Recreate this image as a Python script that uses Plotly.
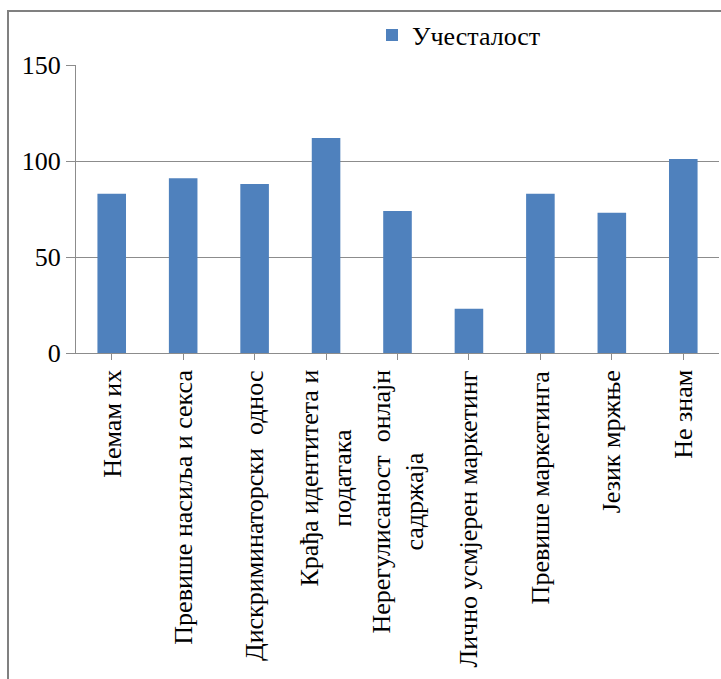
import plotly.graph_objects as go

categories = [
    "Немам их",
    "Превише насиља и секса",
    "Дискриминаторски  однос",
    "Крађа идентитета и<br>података",
    "Нерегулисаност  онлајн<br>садржаја",
    "Лично усмјерен маркетинг",
    "Превише маркетинга",
    "Језик мржње",
    "Не знам",
]
values = [83, 91, 88, 112, 74, 23, 83, 73, 101]
series_name = "Учесталост"
y_ticks = [0, 50, 100, 150]

W, H = 721, 679
L, R, T, B = 76, 2, 65, 326
plot_w = W - L - R
plot_h = H - T - B
FONT = "Liberation Serif, Times New Roman, serif"
FS = 26
GRID = "#8c8c8c"


def px_x(p):
    return (p - L) / plot_w


def px_y(p):
    return (H - B - p) / plot_h


fig = go.Figure(
    go.Bar(
        x=list(range(len(categories))),
        y=values,
        name=series_name,
        marker=dict(color="#4F81BD", line=dict(width=0)),
        showlegend=True,
    )
)

# category labels, rotated and centred under each bar
for i, c in enumerate(categories):
    fig.add_annotation(
        x=i, y=px_y(368), xref="x", yref="paper",
        text=c, textangle=-90, showarrow=False,
        xanchor="center", yanchor="top", align="center",
        font=dict(family=FONT, size=FS, color="black"),
    )

# outer chart frame
fig.add_shape(
    type="rect", xref="paper", yref="paper",
    x0=px_x(8), x1=px_x(W + 20), y0=px_y(H + 20), y1=px_y(11),
    line=dict(color="#808080", width=2), fillcolor="rgba(0,0,0,0)",
    layer="below",
)

fig.update_layout(
    width=W, height=H,
    margin=dict(l=L, r=R, t=T, b=B),
    paper_bgcolor="white", plot_bgcolor="white",
    bargap=0.6,
    font=dict(family=FONT, size=FS, color="black"),
    legend=dict(
        x=px_x(372), y=px_y(35), xanchor="left", yanchor="middle",
        orientation="h", font=dict(family=FONT, size=FS, color="black"),
        bgcolor="rgba(0,0,0,0)",
    ),
    xaxis=dict(
        range=[-0.5, len(categories) - 0.5],
        tickmode="array", tickvals=list(range(len(categories))),
        showticklabels=False, tickson="boundaries",
        ticks="outside", ticklen=6, tickcolor=GRID,
        showline=True, linecolor=GRID, linewidth=1,
        showgrid=False, zeroline=False, fixedrange=True,
    ),
    yaxis=dict(
        range=[0, 150], tickvals=y_ticks,
        ticks="outside", ticklen=9, tickcolor=GRID,
        showline=True, linecolor=GRID, linewidth=1,
        showgrid=True, gridcolor=GRID, gridwidth=1,
        zeroline=False, automargin=False, ticksuffix="\u00a0",
        tickfont=dict(family=FONT, size=FS, color="black"),
    ),
)

fig.write_html("out.html")
